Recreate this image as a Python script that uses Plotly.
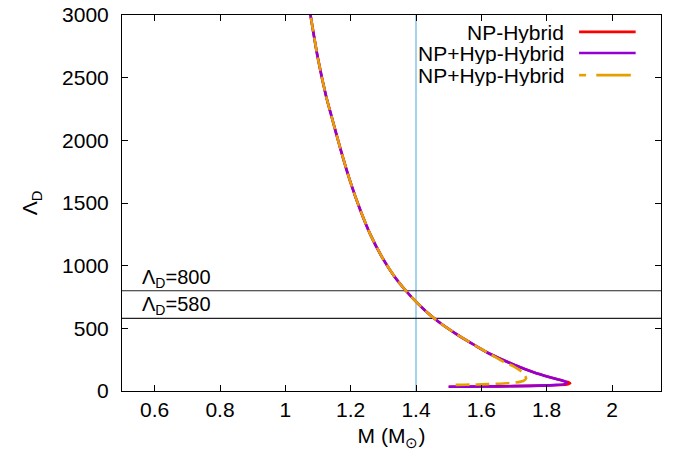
import plotly.graph_objects as go

# NP-Hybrid (red)
m_np = [1.050, 1.077, 1.10, 1.125, 1.143, 1.17, 1.20, 1.23, 1.26, 1.30, 1.335, 1.367, 1.40, 1.437, 1.475, 1.526,
        1.58, 1.627, 1.70, 1.76, 1.81, 1.845, 1.865, 1.872, 1.862, 1.82, 1.75, 1.65, 1.55, 1.50]
lam_np = [3450, 3000, 2650, 2350, 2176, 1920, 1660, 1440, 1250, 1050, 910, 806, 713, 620, 540, 450,
          365, 295, 210, 150, 110, 85, 72, 62, 52, 46, 41, 37, 35, 34]

# NP+Hyp-Hybrid (purple)
m_hyp = [1.050, 1.077, 1.10, 1.125, 1.143, 1.17, 1.20, 1.23, 1.26, 1.30, 1.335, 1.367, 1.40, 1.437, 1.475, 1.526,
         1.58, 1.627, 1.70, 1.76, 1.81, 1.845, 1.862, 1.855, 1.82, 1.75, 1.65, 1.55, 1.50]
lam_hyp = [3450, 3000, 2650, 2350, 2176, 1920, 1660, 1440, 1250, 1050, 910, 806, 713, 620, 540, 450,
           365, 295, 210, 150, 110, 85, 68, 55, 47, 41, 37, 35, 34]

# NP+Hyp-Hybrid (orange dashed)
m_hyp2 = [1.050, 1.077, 1.10, 1.125, 1.143, 1.17, 1.20, 1.23, 1.26, 1.30, 1.335, 1.367, 1.40, 1.437, 1.475, 1.526,
          1.58, 1.627, 1.667, 1.70, 1.718, 1.732, 1.737, 1.728, 1.705, 1.682, 1.62, 1.55, 1.505]
lam_hyp2 = [3450, 3000, 2650, 2350, 2176, 1920, 1660, 1440, 1250, 1050, 910, 806, 713, 620, 540, 450,
            365, 295, 235, 195, 165, 130, 100, 80, 68, 62, 55, 50, 48]

legend_names = ["NP-Hybrid", "NP+Hyp-Hybrid", "NP+Hyp-Hybrid"]
colors = ["#ff0000", "#9400d3", "#e69f00"]
hlines = [800, 580]
hline_labels = ["Λ<sub>D</sub>=800", "Λ<sub>D</sub>=580"]
vline_x = 1.4

x_ticks = [0.6, 0.8, 1.0, 1.2, 1.4, 1.6, 1.8, 2.0]
x_ticktext = ["0.6", "0.8", "1", "1.2", "1.4", "1.6", "1.8", "2"]
y_ticks = [0, 500, 1000, 1500, 2000, 2500, 3000]

FONT = "Liberation Sans, Arial, sans-serif"
FS = 21

fig = go.Figure()

# reference lines
fig.add_shape(type="line", x0=vline_x, x1=vline_x, y0=0, y1=1, xref="x", yref="paper",
              line=dict(color="#87c4e8", width=1.5), layer="below")
for h in hlines:
    fig.add_shape(type="line", x0=0, x1=1, y0=h, y1=h, xref="paper", yref="y",
                  line=dict(color="#222222", width=1.2), layer="below")

fig.add_trace(go.Scatter(x=m_np, y=lam_np, mode="lines", name=legend_names[0],
                         line=dict(color=colors[0], width=2.6, shape="spline", smoothing=0.6),
                         showlegend=False))
fig.add_trace(go.Scatter(x=m_hyp, y=lam_hyp, mode="lines", name=legend_names[1],
                         line=dict(color=colors[1], width=2.6, shape="spline", smoothing=0.6),
                         showlegend=False))
fig.add_trace(go.Scatter(x=m_hyp2, y=lam_hyp2, mode="lines", name=legend_names[2],
                         line=dict(color=colors[2], width=2.6, dash="14px,6px", shape="spline",
                                   smoothing=0.6),
                         showlegend=False))

# annotations for horizontal lines
for h, t in zip(hlines, hline_labels):
    fig.add_annotation(x=0.555, y=h, xref="x", yref="y", text=t, showarrow=False,
                       xanchor="left", yanchor="bottom", yshift=-2,
                       font=dict(family=FONT, size=FS - 1, color="black"))

# gnuplot-style legend (text right, sample line after)
leg_y = [0.955, 0.899, 0.840]
for i, (nm, c) in enumerate(zip(legend_names, colors)):
    fig.add_annotation(x=0.824, y=leg_y[i], xref="paper", yref="paper", text=nm,
                       showarrow=False, xanchor="right", yanchor="middle", height=22,
                       font=dict(family=FONT, size=FS, color="black"))
    if i < 2:
        fig.add_shape(type="line", x0=0.848, x1=0.953, y0=leg_y[i], y1=leg_y[i],
                      xref="paper", yref="paper", line=dict(color=c, width=2.6))
    else:
        fig.add_shape(type="line", x0=0.848, x1=0.861, y0=leg_y[i], y1=leg_y[i],
                      xref="paper", yref="paper", line=dict(color=c, width=2.6))
        fig.add_shape(type="line", x0=0.880, x1=0.944, y0=leg_y[i], y1=leg_y[i],
                      xref="paper", yref="paper", line=dict(color=c, width=2.6))

fig.update_xaxes(range=[0.5, 2.15], tickvals=x_ticks, ticktext=x_ticktext, automargin=False,
                 showline=True, linecolor="black", linewidth=1, mirror="ticks",
                 ticks="inside", ticklen=6, tickcolor="black", showgrid=False, zeroline=False,
                 tickfont=dict(family=FONT, size=FS, color="black"),
                 title=dict(text="M (M<sub>⊙</sub>)", font=dict(family=FONT, size=FS, color="black"),
                            standoff=8))
fig.update_yaxes(range=[0, 3000], tickvals=y_ticks, automargin=False,
                 showline=True, linecolor="black", linewidth=1, mirror="ticks",
                 ticks="inside", ticklen=6, tickcolor="black", showgrid=False, zeroline=False,
                 ticklabelstandoff=8,
                 tickfont=dict(family=FONT, size=FS, color="black"),
                 title=dict(text="Λ<sub>D</sub>", font=dict(family=FONT, size=FS, color="black"),
                            standoff=18))

fig.update_layout(width=680, height=454, margin=dict(l=122, r=19, t=15, b=63),
                  plot_bgcolor="white", paper_bgcolor="white", showlegend=False)

fig.write_html("out.html")
